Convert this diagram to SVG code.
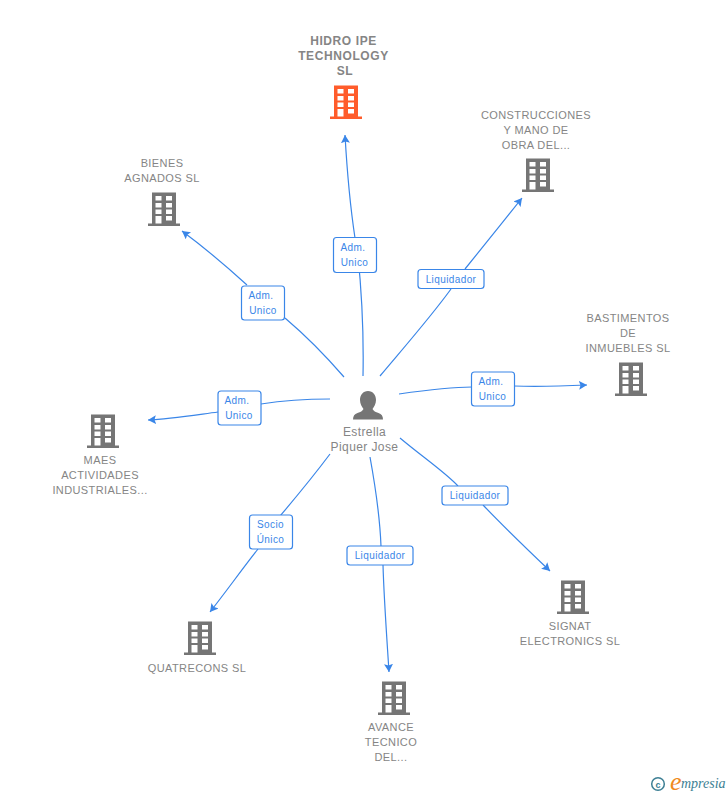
<svg xmlns="http://www.w3.org/2000/svg" width="728" height="795" viewBox="0 0 728 795">
<style>
text{font-family:"Liberation Sans",Arial,sans-serif;letter-spacing:.4px}
.n{font-size:11px;fill:#858585;text-anchor:middle}
.h{font-size:12px;fill:#858585;text-anchor:middle;font-weight:700;letter-spacing:.6px}
.p{font-size:12px;fill:#858585;text-anchor:middle}
.l{font-size:10px;fill:#3a86e8;text-anchor:middle}
.b{fill:#fff;stroke:#3a86e8;stroke-width:1.2}
.c{fill:none;stroke:#3a86e8;stroke-width:1.2;marker-end:url(#a)}
.s{fill:none;stroke:#3a86e8;stroke-width:1.2}
.g{fill:#757575}
.o{fill:#ff5c2b}
.w{fill:#fff}
</style>
<defs>
<marker id="a" markerUnits="userSpaceOnUse" markerWidth="10" markerHeight="10" refX="8" refY="4.500" orient="auto"><path d="M0 0L8 4.500L0 9L1.500 4.500Z" fill="#3a86e8"/></marker>
<g id="bld">
<path d="M-12 -16.500h24v31h4v2.500h-32v-2.500h4z"/>
<g class="w"><rect x="-8.500" y="-13" width="6" height="4.500"/><rect x="2" y="-13" width="6" height="4.500"/><rect x="-8.500" y="-6" width="6" height="4.500"/><rect x="2" y="-6" width="6" height="4.500"/><rect x="-8.500" y="0.500" width="6" height="4.500"/><rect x="2" y="0.500" width="6" height="4.500"/><rect x="-8.500" y="7" width="6" height="7.500"/><rect x="2" y="7" width="6" height="4.500"/></g>
</g>
</defs>
<g id="connectors">
<path class="s" d="M363 376C364 325 361 280 356 238"/><path class="c" d="M355 238C350 205 347 170 345 135"/>
<path class="s" d="M380 376C400 352 430 318 451 289"/><path class="c" d="M465 269C485 244 503 222 522 198"/>
<path class="s" d="M399 394C420 391 450 387 472 387"/><path class="c" d="M514 386C540 387 565 386 587 385"/>
<path class="s" d="M400 438C420 455 445 472 458 486"/><path class="c" d="M483 505C505 528 530 552 550 571"/>
<path class="s" d="M370 457C376 490 380 520 381 546"/><path class="c" d="M383 565C384 600 387 640 389 672"/>
<path class="s" d="M330 454C312 478 292 502 275 522"/><path class="c" d="M258 549C240 572 225 593 210 612"/>
<path class="s" d="M330 399C305 399 280 401 261 404"/><path class="c" d="M218 412C195 415 170 419 148 420"/>
<path class="s" d="M344 377C325 355 305 335 285 318"/><path class="c" d="M247 285C225 265 205 248 182 231"/>
</g>
<g id="center"><path class="g" d="M368 391c5 0 8 4 8 9c0 4-2 7-3.500 9c1 2 3 3 6 4c3 1 4.500 3 4.500 6.500h-30c0-3.500 1.500-5.500 4.500-6.500c3-1 5-2 6-4c-1.500-2-3.500-5-3.500-9c0-5 3-9 8-9z"/><text class="p" x="364.500" y="436">Estrella</text><text class="p" x="364.500" y="451">Piquer Jose</text></g>
<g id="n1"><use href="#bld" x="346" y="102" class="o"/><text class="h" x="343.500" y="45">HIDRO IPE</text><text class="h" x="343.500" y="60">TECHNOLOGY</text><text class="h" x="345" y="75">SL</text></g>
<g id="n2"><use href="#bld" x="538" y="175" class="g"/><text class="n" x="536" y="119">CONSTRUCCIONES</text><text class="n" x="536" y="134">Y MANO DE</text><text class="n" x="536" y="149">OBRA DEL...</text></g>
<g id="n3"><use href="#bld" x="631" y="379" class="g"/><text class="n" x="628" y="322">BASTIMENTOS</text><text class="n" x="628" y="337">DE</text><text class="n" x="628" y="352">INMUEBLES SL</text></g>
<g id="n4"><use href="#bld" x="573" y="597" class="g"/><text class="n" x="570" y="630">SIGNAT</text><text class="n" x="570" y="645">ELECTRONICS SL</text></g>
<g id="n5"><use href="#bld" x="394" y="698" class="g"/><text class="n" x="391" y="731">AVANCE</text><text class="n" x="391" y="746">TECNICO</text><text class="n" x="391" y="761">DEL...</text></g>
<g id="n6"><use href="#bld" x="200" y="638" class="g"/><text class="n" x="197" y="672">QUATRECONS SL</text></g>
<g id="n7"><use href="#bld" x="103" y="431" class="g"/><text class="n" x="100" y="464">MAES</text><text class="n" x="100" y="479">ACTIVIDADES</text><text class="n" x="100" y="494">INDUSTRIALES...</text></g>
<g id="n8"><use href="#bld" x="164" y="209" class="g"/><text class="n" x="162" y="167">BIENES</text><text class="n" x="162" y="182">AGNADOS SL</text></g>
<g id="labels">
<rect class="b" x="333.500" y="237.500" width="43" height="35" rx="3"/><text class="l" x="353" y="251">Adm.</text><text class="l" x="354.500" y="266">Unico</text>
<rect class="b" x="418" y="269.500" width="66" height="19" rx="3"/><text class="l" x="451" y="283">Liquidador</text>
<rect class="b" x="471.500" y="372" width="43" height="34" rx="3"/><text class="l" x="491" y="385">Adm.</text><text class="l" x="492.500" y="400">Unico</text>
<rect class="b" x="442" y="486" width="66" height="19" rx="3"/><text class="l" x="475" y="499">Liquidador</text>
<rect class="b" x="347" y="546" width="66" height="19" rx="3"/><text class="l" x="380" y="559">Liquidador</text>
<rect class="b" x="249.500" y="515" width="43" height="34" rx="3"/><text class="l" x="270.500" y="528">Socio</text><text class="l" x="270.500" y="543">Único</text>
<rect class="b" x="218" y="391" width="43" height="34" rx="3"/><text class="l" x="237" y="404">Adm.</text><text class="l" x="239" y="419">Unico</text>
<rect class="b" x="241.500" y="286" width="43" height="34" rx="3"/><text class="l" x="261" y="299">Adm.</text><text class="l" x="263" y="314">Unico</text>
</g>
<g id="logo">
<circle cx="658" cy="784" r="6.300" fill="none" stroke="#3d7f94" stroke-width="1.500"/>
<text x="658" y="787.500" font-size="9" fill="#3d7f94" text-anchor="middle" font-weight="700" style="letter-spacing:0">c</text>
<text x="670" y="790" font-size="26" fill="#f08a1d" font-style="italic" style="font-family:'Liberation Serif',serif;letter-spacing:0">e</text>
<text x="681" y="788" font-size="14" fill="#3d7f94" font-style="italic" style="font-family:'Liberation Serif',serif;letter-spacing:0">mpresia</text>
</g>
</svg>
